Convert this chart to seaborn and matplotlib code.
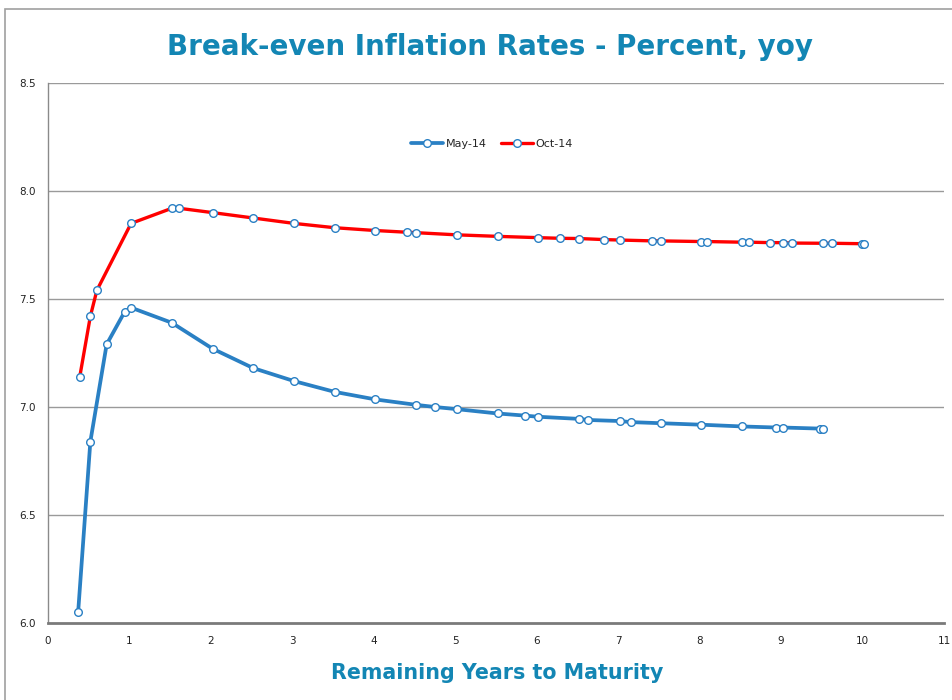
"""Break-even inflation curves, May-14 vs Oct-14."""
import matplotlib
matplotlib.use("Agg")
import matplotlib.pyplot as plt
import matplotlib.patches as mpatches
import seaborn as sns
from matplotlib import font_manager

# --- data ---
may_years = [0.37, 0.52, 0.72, 0.94, 1.02, 1.52, 2.02, 2.52, 3.02, 3.52, 4.02,
             4.52, 4.75, 5.02, 5.52, 5.86, 6.01, 6.52, 6.63, 7.02, 7.16, 7.52,
             8.02, 8.52, 8.94, 9.02, 9.48, 9.52]
may_rates = [6.05, 6.84, 7.29, 7.44, 7.46, 7.39, 7.27, 7.18, 7.12, 7.07, 7.035,
             7.01, 7.0, 6.99, 6.97, 6.96, 6.955, 6.945, 6.94, 6.935, 6.93, 6.925,
             6.918, 6.91, 6.905, 6.905, 6.90, 6.90]

oct_years = [0.39, 0.52, 0.60, 1.02, 1.52, 1.61, 2.02, 2.52, 3.02, 3.52, 4.02,
             4.41, 4.52, 5.02, 5.52, 6.02, 6.29, 6.52, 6.83, 7.02, 7.42, 7.52,
             8.02, 8.09, 8.52, 8.61, 8.86, 9.02, 9.13, 9.52, 9.63, 9.99, 10.02]
oct_rates = [7.14, 7.42, 7.54, 7.85, 7.92, 7.92, 7.90, 7.875, 7.85, 7.83, 7.817,
             7.809, 7.807, 7.797, 7.79, 7.784, 7.781, 7.78, 7.775, 7.773, 7.769,
             7.769, 7.766, 7.766, 7.763, 7.763, 7.761, 7.761, 7.759, 7.758, 7.758,
             7.756, 7.756]

x_ticks = list(range(0, 12))
y_ticks = [6.0, 6.5, 7.0, 7.5, 8.0, 8.5]

TITLE_COLOR = "#1386b4"
BLUE = "#2a80c4"
RED = "#ff0000"

sns.set_theme(style="white")
available = {f.name for f in font_manager.fontManager.ttflist}
narrow = "Liberation Sans Narrow" if "Liberation Sans Narrow" in available else "DejaVu Sans"
plt.rcParams["font.family"] = [narrow, "DejaVu Sans"]


def fit_width(fig, txt, width_px):
    # shrink/grow a text so it spans the same width as in the reference
    renderer = fig.canvas.get_renderer()
    w = txt.get_window_extent(renderer).width
    txt.set_fontsize(txt.get_fontsize() * width_px / w)


fig = plt.figure(figsize=(9.52, 7.0), dpi=100)
ax = fig.add_axes([48 / 952, 1 - 623 / 700, 896 / 952, 540 / 700])

# chart frame (Excel style, running off the right/bottom edge)
fig.patches.append(mpatches.Rectangle((5 / 952, -0.1), 1.2, 1 - 9 / 700 + 0.1,
                                      transform=fig.transFigure, fill=False,
                                      edgecolor="#a0a0a0", linewidth=1.2))

marker_kw = dict(marker="o", markersize=5.5, markerfacecolor="white",
                 markeredgecolor=BLUE, markeredgewidth=1.0)
sns.lineplot(x=may_years, y=may_rates, ax=ax, color=BLUE, linewidth=2.7,
             sort=False, label="May-14", **marker_kw)
sns.lineplot(x=oct_years, y=oct_rates, ax=ax, color=RED, linewidth=2.4,
             sort=False, label="Oct-14", **marker_kw)

ax.set_xlim(0, 11)
ax.set_ylim(6.0, 8.5)
ax.set_xticks(x_ticks)
ax.set_yticks(y_ticks)
ax.set_yticklabels([f"{v:.1f}" for v in y_ticks])
ax.tick_params(axis="both", labelsize=7.5, colors="#222222", length=0, pad=9)
for y in y_ticks[1:]:
    ax.axhline(y, color="#9a9a9a", linewidth=1.0, zorder=0)

for side in ["top", "right"]:
    ax.spines[side].set_visible(False)
ax.spines["left"].set_color("#8a8a8a")
ax.spines["left"].set_linewidth(1.0)
ax.spines["bottom"].set_color("#7a7a7a")
ax.spines["bottom"].set_linewidth(2.0)

ax.set_ylabel("")
xlab = fig.text(497 / 952, 1 - 673 / 700, "Remaining Years to Maturity",
                ha="center", va="center", fontsize=15, fontweight="bold",
                color=TITLE_COLOR)
title = fig.text(490 / 952, 1 - 47 / 700, "Break-even Inflation Rates - Percent, yoy",
                 ha="center", va="center", fontsize=20, fontweight="bold",
                 color=TITLE_COLOR)
fit_width(fig, title, 644)
fit_width(fig, xlab, 334)

ax.legend(loc="center", bbox_to_anchor=((492 - 48) / 896, 1 - (144 - 83) / 540),
          ncol=2, frameon=False, fontsize=8, handlelength=2.9, columnspacing=1.3,
          handletextpad=0.2)

fig.savefig("out.png", dpi=100)
print("Saved -> out.png")
